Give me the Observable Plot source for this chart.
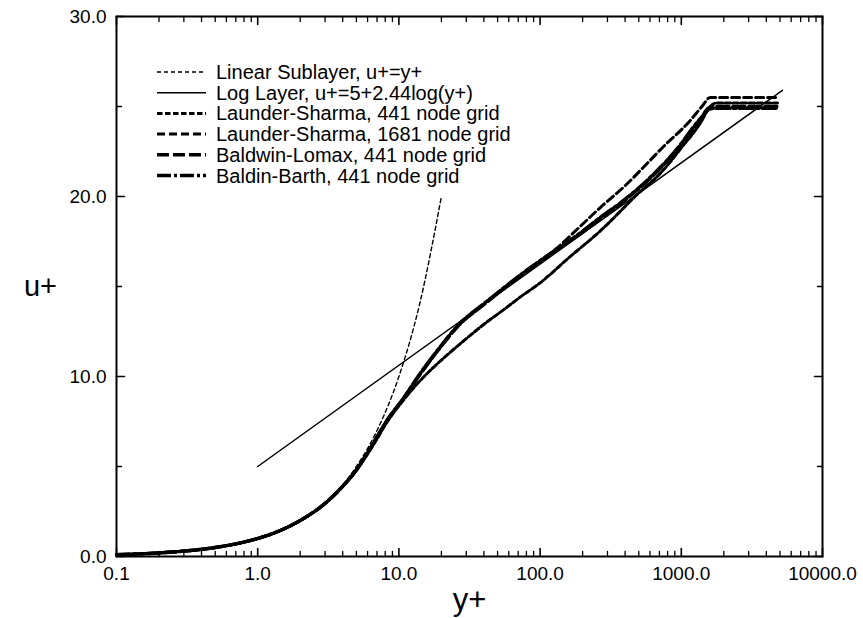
<!DOCTYPE html>
<html>
<head>
<meta charset="utf-8">
<script src="https://cdn.jsdelivr.net/npm/d3@7"></script>
<script src="https://cdn.jsdelivr.net/npm/@observablehq/plot@0.6"></script>
<style>
  html, body { margin: 0; padding: 0; background: #fff; }
  #chart { width: 863px; height: 618px; }
</style>
</head>
<body>
<div id="chart"></div>
<script>
// ---- tick labels ----
const xTickValues = [0.1, 1, 10, 100, 1000, 10000];
const xTickLabels = ["0.1", "1.0", "10.0", "100.0", "1000.0", "10000.0"];
const yTickValues = [0, 10, 20, 30];
const yTickLabels = ["0.0", "10.0", "20.0", "30.0"];
const yMinorTicks = [5, 15, 25];

// ---- reference laws (sampled) ----
const linearYp = [0.1, 0.15, 0.2, 0.3, 0.5, 0.7, 1, 1.5, 2, 3, 5, 7, 10, 14, 20];
const linearUp = [0.1, 0.15, 0.2, 0.3, 0.5, 0.7, 1, 1.5, 2, 3, 5, 7, 10, 14, 20];
const logYp = [1, 5200];
const logUp = [5.0, 25.9];

// ---- model solutions ----
const ls441Yp = [0.1, 0.2, 0.3, 0.5, 0.7, 1, 1.5, 2, 3, 4, 5, 6.6, 8.3, 10.8, 13.5, 17, 22, 30, 40, 55, 72, 100, 160, 268, 500, 713, 1000, 1370, 1600, 1800, 4800];
const ls441Up = [0.1, 0.2, 0.3, 0.5, 0.7, 1.0, 1.5, 2.0, 2.95, 3.9, 4.8, 6.2, 7.5, 8.7, 9.6, 10.4, 11.2, 12.1, 12.9, 13.7, 14.4, 15.2, 16.6, 18.1, 20.2, 21.3, 22.7, 24.1, 25.0, 25.2, 25.2];

const ls1681Yp = [0.1, 0.2, 0.3, 0.5, 0.7, 1, 1.5, 2, 3, 4, 5, 6.6, 8.3, 10.8, 13.5, 18.7, 27, 40, 60, 85, 130, 190, 268, 400, 600, 800, 1000, 1150, 1400, 1600, 4800];
const ls1681Up = [0.1, 0.2, 0.3, 0.5, 0.7, 1.0, 1.5, 2.0, 2.95, 3.9, 4.8, 6.3, 7.6, 8.8, 9.9, 11.4, 12.9, 14.0, 15.1, 16.0, 17.1, 18.3, 19.4, 20.6, 22.0, 23.0, 23.7, 24.2, 25.0, 25.5, 25.5];

const blYp = [0.1, 0.2, 0.3, 0.5, 0.7, 1, 1.5, 2, 3, 4, 5, 6.6, 8.3, 10.8, 13.5, 18.7, 27, 40, 60, 85, 130, 190, 268, 400, 600, 800, 1000, 1200, 1370, 1550, 1700, 4800];
const blUp = [0.1, 0.2, 0.3, 0.5, 0.7, 1.0, 1.5, 2.0, 2.95, 3.9, 4.8, 6.3, 7.6, 8.8, 9.9, 11.4, 12.9, 14.0, 15.1, 16.0, 17.0, 17.9, 18.8, 19.8, 21.0, 22.0, 22.9, 23.7, 24.3, 24.9, 25.0, 25.0];

const bbYp = [0.1, 0.2, 0.3, 0.5, 0.7, 1, 1.5, 2, 3, 4, 5, 6.6, 8.3, 10.8, 13.5, 18.7, 27, 40, 60, 85, 130, 190, 268, 400, 600, 800, 1000, 1200, 1370, 1550, 1700, 4800];
const bbUp = [0.1, 0.2, 0.3, 0.5, 0.7, 1.0, 1.5, 2.0, 2.95, 3.9, 4.8, 6.3, 7.6, 8.8, 9.95, 11.45, 12.95, 14.05, 15.15, 16.05, 17.05, 17.95, 18.85, 19.85, 21.05, 22.05, 22.95, 23.8, 24.35, 24.8, 24.9, 24.9];

const zip = (xs, ys) => xs.map((x, i) => ({yp: x, up: ys[i]}));

const series = [
  {name: "Linear Sublayer, u+=y+", data: zip(linearYp, linearUp), width: 1.4, dash: "4,3"},
  {name: "Log Layer, u+=5+2.44log(y+)", data: zip(logYp, logUp), width: 1.5, dash: null},
  {name: "Launder-Sharma, 441 node grid", data: zip(ls441Yp, ls441Up), width: 3, dash: "5.5,2.5"},
  {name: "Launder-Sharma, 1681 node grid", data: zip(ls1681Yp, ls1681Up), width: 3, dash: "8,4"},
  {name: "Baldwin-Lomax, 441 node grid", data: zip(blYp, blUp), width: 3.4, dash: "12,4"},
  {name: "Baldin-Barth, 441 node grid", data: zip(bbYp, bbUp), width: 3.4, dash: "14,3,3,3"}
];

// minor log ticks (2..9 per decade)
const xMinorTicks = [];
for (let e = -1; e < 4; e++) for (let k = 2; k <= 9; k++) xMinorTicks.push(k * Math.pow(10, e));

const tickShape = {draw(ctx, l) { ctx.moveTo(0, 0); ctx.lineTo(0, -l); }};

const W = 863, H = 618;
const font = "'Liberation Sans', Arial, Helvetica, sans-serif";

const lineMarks = series.map(s => Plot.line(s.data, {
  x: "yp", y: "up", stroke: "black", strokeWidth: s.width,
  strokeDasharray: s.dash, strokeLinejoin: "round", curve: "monotone-x"
}));

const chart = Plot.plot({
  width: W, height: H,
  marginLeft: 116, marginRight: 41, marginTop: 16, marginBottom: 62,
  style: {fontFamily: font, fontSize: "19px", color: "black", background: "white"},
  x: {type: "log", domain: [0.1, 10000]},
  y: {domain: [0, 30]},
  marks: [
    ...lineMarks,
    // tick labels
    Plot.axisX(xTickValues, {anchor: "bottom", tickSize: 0, tickPadding: 10, fontSize: 19,
      tickFormat: d => xTickLabels[xTickValues.indexOf(d)], label: null}),
    Plot.axisY(yTickValues, {anchor: "left", tickSize: 0, tickPadding: 10, fontSize: 19,
      tickFormat: d => yTickLabels[yTickValues.indexOf(d)], label: null}),
    // inward ticks: bottom / top
    Plot.vectorX(xTickValues, {x: d => d, frameAnchor: "bottom", length: 8, rotate: 0, anchor: "start", shape: tickShape, strokeWidth: 1.6}),
    Plot.vectorX(xMinorTicks, {x: d => d, frameAnchor: "bottom", length: 5, rotate: 0, anchor: "start", shape: tickShape, strokeWidth: 1.3}),
    Plot.vectorX(xTickValues, {x: d => d, frameAnchor: "top", length: 8, rotate: 180, anchor: "start", shape: tickShape, strokeWidth: 1.6}),
    Plot.vectorX(xMinorTicks, {x: d => d, frameAnchor: "top", length: 5, rotate: 180, anchor: "start", shape: tickShape, strokeWidth: 1.3}),
    // inward ticks: left / right
    Plot.vectorY(yTickValues, {y: d => d, frameAnchor: "left", length: 8, rotate: 90, anchor: "start", shape: tickShape, strokeWidth: 1.6}),
    Plot.vectorY(yMinorTicks, {y: d => d, frameAnchor: "left", length: 5, rotate: 90, anchor: "start", shape: tickShape, strokeWidth: 1.3}),
    Plot.vectorY(yTickValues, {y: d => d, frameAnchor: "right", length: 8, rotate: -90, anchor: "start", shape: tickShape, strokeWidth: 1.6}),
    Plot.vectorY(yMinorTicks, {y: d => d, frameAnchor: "right", length: 5, rotate: -90, anchor: "start", shape: tickShape, strokeWidth: 1.3}),
    Plot.frame({stroke: "black", strokeWidth: 2}),
    // axis titles
    Plot.text(["y+"], {frameAnchor: "bottom", dy: 44, text: d => d, fontSize: 31, textAnchor: "middle", lineAnchor: "middle"}),
    Plot.text(["u+"], {frameAnchor: "left", dx: -76, text: d => d, fontSize: 29, textAnchor: "middle", lineAnchor: "middle"})
  ]
});

// legend inside the plot (upper left)
const svg = d3.select(chart);
const lg = svg.append("g").attr("font-family", font).attr("font-size", 20).attr("text-anchor", "start");
const lx0 = 157, lx1 = 206, ltx = 216, ly0 = 72, ldy = 20.7;
series.forEach((s, i) => {
  const y = ly0 + i * ldy;
  lg.append("line").attr("x1", lx0).attr("x2", lx1).attr("y1", y).attr("y2", y)
    .attr("stroke", "black").attr("stroke-width", s.width)
    .attr("stroke-dasharray", s.dash);
  lg.append("text").attr("x", ltx).attr("y", y).attr("dy", "0.35em").attr("fill", "black")
    .attr("text-anchor", "start").text(s.name);
});

document.getElementById("chart").appendChild(chart);
</script>
</body>
</html>
